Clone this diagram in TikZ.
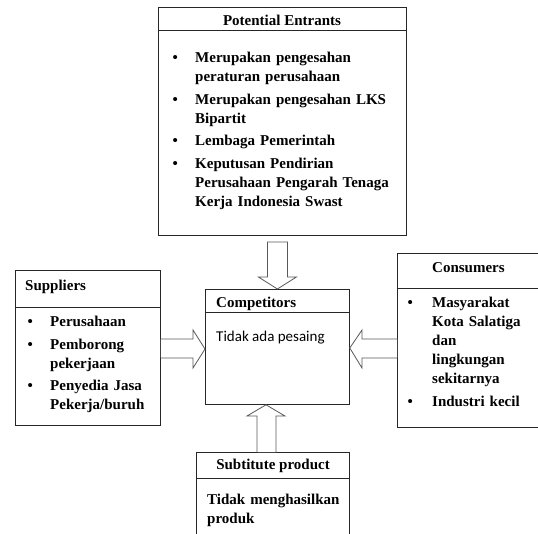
\documentclass[tikz,border=0pt]{standalone}
\usepackage{fontspec}
\setmainfont{Liberation Serif}
\newfontfamily\carlfont{Carlito}
\usetikzlibrary{calc}
\newcommand\bitem[2]{\noindent\hangindent=#1\hangafter=1\makebox[#1][l]{\textbullet}#2}
\begin{document}
\begin{tikzpicture}[x=1pt,y=-1pt,
  box/.style={draw=black!85, line width=0.8pt, rectangle, inner sep=0pt, anchor=north west},
  hdr/.style={draw=black!85, line width=0.8pt},
  ttl/.style={font=\fontsize{15}{19}\selectfont\bfseries, inner sep=0pt},
  body/.style={font=\fontsize{15}{19}\selectfont\bfseries, inner sep=0pt, anchor=base west},
  barrow/.style={draw=black!65, line width=0.8pt, fill=white, line join=miter}]
\useasboundingbox (0,0) rectangle (538,534);
\clip (0,0) rectangle (538,534);
% boxes
\node[box, minimum width=248pt, minimum height=228pt] (pe) at (158,7) {};
\node[box, minimum width=145pt, minimum height=155pt] (sup) at (15,270) {};
\node[box, minimum width=150pt, minimum height=174pt] (con) at (397,253) {};
\node[box, minimum width=144pt, minimum height=115pt] (comp) at (205,289) {};
\node[box, minimum width=153pt, minimum height=100pt] (sub) at (196,452) {};
% header lines
\draw[hdr] ($(pe.north west)+(0,23)$) -- ($(pe.north east)+(0,23)$);
\draw[hdr] ($(sup.north west)+(0,37)$) -- ($(sup.north east)+(0,37)$);
\draw[hdr] ($(con.north west)+(0,35)$) -- ($(con.north east)+(0,35)$);
\draw[hdr] ($(comp.north west)+(0,23)$) -- ($(comp.north east)+(0,23)$);
\draw[hdr] ($(sub.north west)+(0,26)$) -- ($(sub.north east)+(0,26)$);
% titles
\node[ttl, anchor=base] (pet) at (282,26) {Potential Entrants};
\node[ttl, anchor=base west] (supt) at (25,291) {Suppliers};
\node[ttl, anchor=base west] (cont) at (432,273) {Consumers};
\node[ttl, anchor=base west] (compt) at (216,308) {Competitors};
\node[ttl, anchor=base] (subt) at (273,469) {Subtitute product};
% bodies
\node[body, text width=232pt] (peb) at (172.5,63) {\setlength{\parskip}{3.5pt}%
\bitem{22.5pt}{Merupakan pengesahan\newline peraturan perusahaan}\par
\bitem{22.5pt}{Merupakan pengesahan LKS\newline Bipartit}\par
\bitem{22.5pt}{Lembaga Pemerintah}\par
\bitem{22.5pt}{Keputusan Pendirian\newline Perusahaan Pengarah Tenaga\newline Kerja Indonesia Swast}\par};
\node[body, text width=130pt] (supb) at (27.5,327) {\setlength{\parskip}{3.5pt}%
\bitem{22.5pt}{Perusahaan}\par
\bitem{22.5pt}{Pemborong\newline pekerjaan}\par
\bitem{22.5pt}{Penyedia Jasa\newline Pekerja/buruh}\par};
\node[body, text width=128pt] (conb) at (407.5,308) {\setlength{\parskip}{3.5pt}%
\bitem{24.5pt}{Masyarakat\newline Kota Salatiga\newline dan\newline lingkungan\newline sekitarnya}\par
\bitem{24.5pt}{Industri kecil}\par};
\node[anchor=base west, inner sep=0pt, font=\carlfont\fontsize{15}{19}\selectfont] (compb) at (216,342) {Tidak ada pesaing};
\node[body, text width=140pt] (subb) at (207,504) {Tidak menghasilkan\newline produk\par};
% block arrows
\draw[barrow] ($(comp.north)+(-10,-47)$) -- ($(comp.north)+(10,-47)$) -- ($(comp.north)+(10,-12)$)
  -- ($(comp.north)+(19,-12)$) -- (comp.north) -- ($(comp.north)+(-19,-12)$) -- ($(comp.north)+(-10,-12)$) -- cycle;
\coordinate (ltip) at ($(comp.north west)+(0,60)$);
\draw[barrow] (sup.east |- 0,339) -- (193,339) -- (193,330) -- (ltip) -- (193,368) -- (193,358) -- (sup.east |- 0,358);
\coordinate (rtip) at ($(comp.north east)+(0,59)$);
\draw[barrow] (con.west |- 0,339) -- (362,339) -- (362,330) -- (rtip) -- (362,368) -- (362,358) -- (con.west |- 0,358);
\coordinate (btip) at (comp.south -| 266,0);
\draw[barrow] (257,0 |- sub.north) -- (257,416) -- (247,416) -- (btip) -- (285,416) -- (276,416) -- (276,0 |- sub.north);
\end{tikzpicture}
\end{document}
